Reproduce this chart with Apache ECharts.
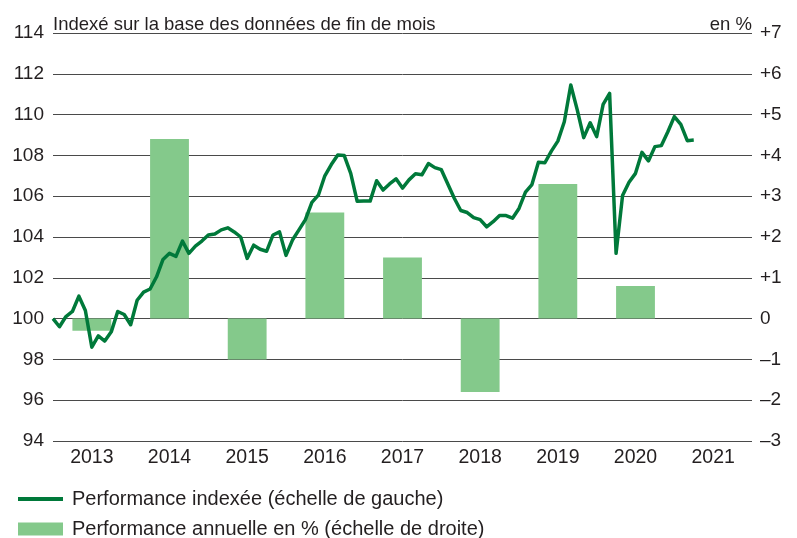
<!DOCTYPE html>
<html>
<head>
<meta charset="utf-8">
<script src="https://cdn.jsdelivr.net/npm/echarts@6/dist/echarts.min.js"></script>
<style>
  html, body { margin: 0; padding: 0; background: #fff; }
  #chart { width: 797px; height: 538px; }
</style>
</head>
<body>
<div id="chart"></div>
<script>
// years shown on the category axis (bars sit in the middle of each year)
const years = ["2013", "2014", "2015", "2016", "2017", "2018", "2019", "2020", "2021"];
// annual performance in % (right scale), no bar for 2021
const annualPct = [-0.3, 4.4, -1.0, 2.6, 1.5, -1.8, 3.3, 0.8, null];
// month-end index, Dec 2012 = 100 (left scale), Dec 2012 .. Mar 2021
const indexValues = [
  100.0, 99.6, 100.1, 100.35, 101.1, 100.4, 98.6, 99.15, 98.9, 99.35, 100.35, 100.2,
  99.7, 100.9, 101.3, 101.45, 102.05, 102.9, 103.2, 103.05, 103.8, 103.2, 103.55, 103.8,
  104.1, 104.15, 104.35, 104.45, 104.25, 104.0, 102.95, 103.6, 103.4, 103.3, 104.1, 104.25,
  103.1, 103.85, 104.35, 104.85, 105.7, 106.05, 107.0, 107.55, 108.02, 107.99, 107.12, 105.75,
  105.76, 105.76, 106.76, 106.3, 106.6, 106.85, 106.4, 106.8, 107.1, 107.05, 107.6, 107.4,
  107.3, 106.6, 105.9, 105.3, 105.2, 104.95, 104.85, 104.5, 104.75, 105.05, 105.05, 104.92,
  105.4, 106.2, 106.57, 107.66, 107.64, 108.21, 108.7, 109.65, 111.45, 110.23, 108.87, 109.6,
  108.92, 110.5, 111.04, 103.2, 106.03, 106.68, 107.12, 108.15, 107.73, 108.43, 108.48, 109.16,
  109.9, 109.52, 108.72, 108.75
];
const leftTicks = ["94", "96", "98", "100", "102", "104", "106", "108", "110", "112", "114"];
const rightTicks = ["–3", "–2", "–1", "0", "+1", "+2", "+3", "+4", "+5", "+6", "+7"];

const FONT = "Liberation Sans, Arial, sans-serif";
const TEXT = "#231f20";
const GREEN = "#00793a";
const LIGHT = "#84c98b";

const chart = echarts.init(document.getElementById("chart"));
chart.setOption({
  animation: false,
  textStyle: { fontFamily: FONT },
  title: [
    {
      text: "Indexé sur la base des données de fin de mois",
      left: 48,
      top: 10,
      textStyle: { fontSize: 18.5, fontWeight: "normal", color: TEXT, fontFamily: FONT },
    },
    {
      text: "en %",
      right: 40,
      top: 10,
      textStyle: { fontSize: 18.5, fontWeight: "normal", color: TEXT, fontFamily: FONT },
    },
  ],
  grid: { left: 53, right: 45, top: 33, bottom: 97 },
  legend: [
    {
      data: [{ name: "Performance indexée (échelle de gauche)", icon: "rect" }],
      left: 13,
      top: 484,
      itemWidth: 45,
      itemHeight: 4,
      textStyle: { fontSize: 20, color: TEXT, fontFamily: FONT, padding: [0, 0, 0, 4] },
    },
    {
      data: [{ name: "Performance annuelle en % (échelle de droite)", icon: "rect" }],
      left: 13,
      top: 514,
      itemWidth: 45,
      itemHeight: 13,
      textStyle: { fontSize: 20, color: TEXT, fontFamily: FONT, padding: [0, 0, 0, 4] },
    },
  ],
  xAxis: [
    {
      type: "category",
      data: years,
      boundaryGap: true,
      axisLine: { show: false },
      axisTick: { show: false },
      axisLabel: { fontSize: 19.5, color: TEXT, margin: 7, fontFamily: FONT },
    },
    {
      type: "value",
      min: 0,
      max: years.length * 12,
      show: false,
    },
  ],
  yAxis: [
    {
      type: "value",
      min: 94,
      max: 114,
      interval: 2,
      axisLine: { show: false },
      axisTick: { show: false },
      axisLabel: {
        fontSize: 19,
        color: TEXT,
        margin: 9,
        fontFamily: FONT,
        formatter: (v) => leftTicks[Math.round((v - 94) / 2)],
      },
      splitLine: { lineStyle: { color: "#4a4a4a", width: 1 } },
    },
    {
      type: "value",
      min: -3,
      max: 7,
      interval: 1,
      axisLine: { show: false },
      axisTick: { show: false },
      axisLabel: {
        fontSize: 19,
        color: TEXT,
        margin: 8,
        fontFamily: FONT,
        formatter: (v) => rightTicks[Math.round(v + 3)],
      },
      splitLine: { show: false },
    },
  ],
  series: [
    {
      name: "Performance annuelle en % (échelle de droite)",
      type: "bar",
      xAxisIndex: 0,
      yAxisIndex: 1,
      barWidth: "50%",
      itemStyle: { color: LIGHT },
      data: annualPct,
    },
    {
      name: "Performance indexée (échelle de gauche)",
      type: "line",
      xAxisIndex: 1,
      yAxisIndex: 0,
      symbol: "none",
      itemStyle: { color: GREEN },
      lineStyle: { color: GREEN, width: 3.5, join: "round" },
      data: indexValues.map((v, i) => [i, v]),
    },
  ],
});
</script>
</body>
</html>
